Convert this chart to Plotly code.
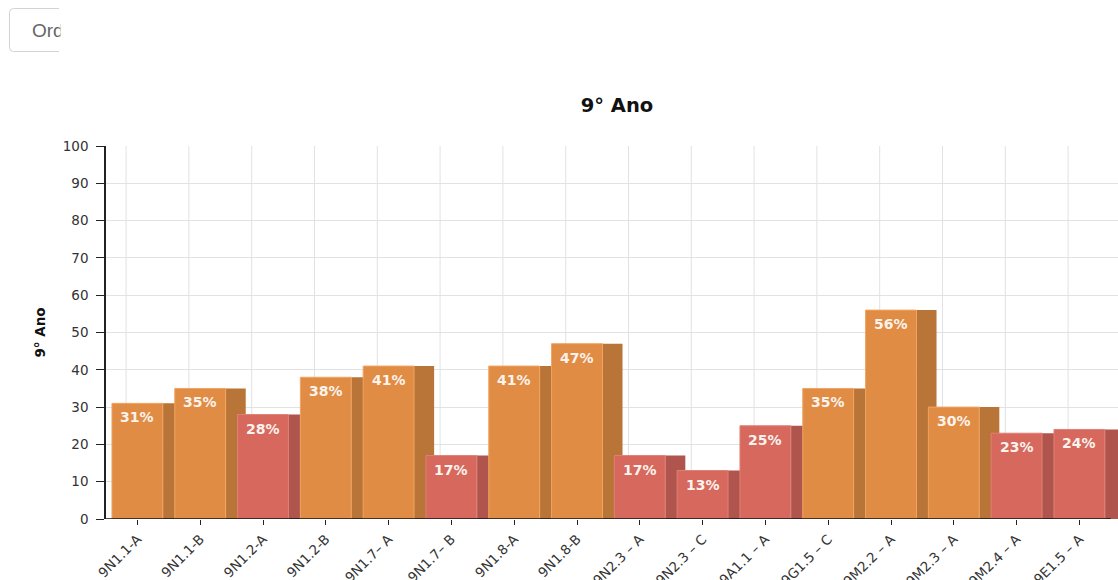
import plotly.graph_objects as go

# Percentual de acerto por descritor - 9º ano
descritores = ["9N1.1-A", "9N1.1-B", "9N1.2-A", "9N1.2-B", "9N1.7– A", "9N1.7– B",
               "9N1.8-A", "9N1.8-B", "9N2.3 – A", "9N2.3 – C", "9A1.1 – A", "9G1.5 – C",
               "9M2.2 – A", "9M2.3 – A", "9M2.4 – A", "9E1.5 – A"]
percentuais = [31, 35, 28, 38, 41, 17, 41, 47, 17, 13, 25, 35, 56, 30, 23, 24]
limite = 30  # abaixo deste valor a barra fica vermelha

FONT = "DejaVu Sans"
FRONT_OK, SIDE_OK, EDGE_OK = "#E08C45", "#B97437", "#F0A461"
FRONT_LOW, SIDE_LOW, EDGE_LOW = "#D6685E", "#AF554E", "#E27F74"

baixo = [v < limite for v in percentuais]
front_col = [FRONT_LOW if b else FRONT_OK for b in baixo]
side_col = [SIDE_LOW if b else SIDE_OK for b in baixo]
edge_col = [EDGE_LOW if b else EDGE_OK for b in baixo]

xs = list(range(len(descritores)))
BAR_W = 0.81    # largura da face frontal (em categorias)
DEPTH = 0.32    # profundidade do efeito 3D

fig = go.Figure()
# face lateral (profundidade) desenhada primeiro
fig.add_trace(go.Bar(x=xs, y=percentuais, offset=BAR_W / 2, width=DEPTH,
                     marker=dict(color=side_col, line=dict(width=0)),
                     hoverinfo="skip"))
# face frontal
fig.add_trace(go.Bar(x=xs, y=percentuais, offset=-BAR_W / 2, width=BAR_W,
                     marker=dict(color=front_col, line=dict(color=edge_col, width=1)),
                     hovertemplate="%{customdata}: %{y}%<extra></extra>",
                     customdata=descritores))

L, R, T, B = 106, 0, 146, 61
W, H = 1118, 580
PW, PH = W - L - R, H - T - B


def px_x(px):
    return (px - L) / PW


def px_y(py):
    return (H - B - py) / PH


annotations = []
for x, v in zip(xs, percentuais):
    annotations.append(dict(x=x, y=v, xref="x", yref="y", text=f"{v}%",
                            showarrow=False, yanchor="top", yshift=-4,
                            font=dict(family=FONT, size=14, color="#FBF3EC", weight="bold")))

# botão de ordenação (parcialmente visível, cortado à direita)
annotations.append(dict(x=px_x(29.5), y=px_y(30.5), xref="paper", yref="paper", text="Ord",
                        showarrow=False, xanchor="left", yanchor="middle",
                        font=dict(family="Liberation Sans", size=19, color="#666666")))
annotations.append(dict(x=px_x(59.5), y=px_y(30), xref="paper", yref="paper", text=" ",
                        showarrow=False, xanchor="left", yanchor="middle",
                        width=24, height=34, bgcolor="white", borderpad=0))

shapes = []
# grade vertical na parede do fundo (deslocada pela profundidade)
for x in xs:
    shapes.append(dict(type="line", xref="x", yref="paper", x0=x - 0.5 + DEPTH,
                       x1=x - 0.5 + DEPTH, y0=0, y1=1, layer="below",
                       line=dict(color="#e2e2e2", width=1)))
# linha do eixo x
shapes.append(dict(type="line", xref="x", yref="y", x0=-0.5, x1=len(xs) - 0.5,
                   y0=0, y1=0, layer="above", line=dict(color="#111111", width=1.5)))
# contorno do botão
path = (f"M {px_x(59)},{px_y(8.5)} L {px_x(13.5)},{px_y(8.5)} "
        f"Q {px_x(9.5)},{px_y(8.5)} {px_x(9.5)},{px_y(12.5)} "
        f"L {px_x(9.5)},{px_y(47.5)} Q {px_x(9.5)},{px_y(51.5)} {px_x(13.5)},{px_y(51.5)} "
        f"L {px_x(59)},{px_y(51.5)}")
shapes.append(dict(type="path", xref="paper", yref="paper", path=path,
                   line=dict(color="#d3d3d3", width=1)))

fig.update_layout(
    width=W, height=H,
    margin=dict(l=L, r=R, t=T, b=B, pad=0),
    paper_bgcolor="white", plot_bgcolor="white",
    barmode="overlay", showlegend=False,
    font=dict(family=FONT, color="#333333"),
    title=dict(text="9° Ano", x=617 / W, xref="container", xanchor="center",
               y=1 - 105 / H, yanchor="middle",
               font=dict(family=FONT, size=19.5, color="#111111", weight="bold")),
    xaxis=dict(range=[-0.5, -0.5 + PW / 62.8], tickmode="array", tickvals=xs,
               ticktext=descritores, tickangle=-45, ticks="outside", ticklen=5,
               tickcolor="#222222", showgrid=False, zeroline=False, showline=False,
               automargin=False, ticklabelstandoff=1,
               tickfont=dict(family=FONT, size=13.5, color="#333333")),
    yaxis=dict(range=[0, 100], dtick=10, showline=True, linecolor="#222222",
               linewidth=1.5, ticks="outside", ticklen=8, tickcolor="#222222",
               gridcolor="#e2e2e2", zeroline=False, automargin=False,
               ticklabelstandoff=5,
               tickfont=dict(family=FONT, size=13.5, color="#333333"),
               title=dict(text="9° Ano", standoff=14,
                          font=dict(family=FONT, size=13.5, color="#111111", weight="bold"))),
    annotations=annotations,
    shapes=shapes,
)

fig.write_html("out.html")
